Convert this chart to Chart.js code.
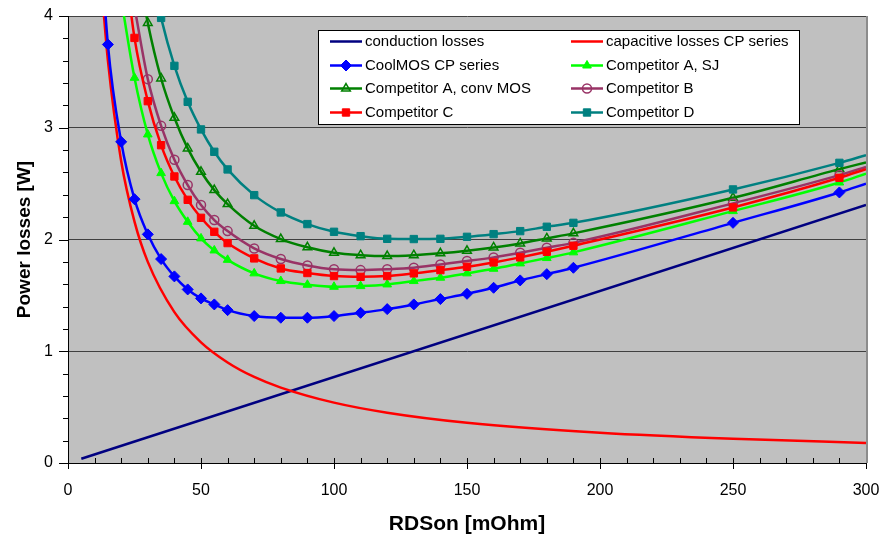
<!DOCTYPE html>
<html>
<head>
<meta charset="utf-8">
<script src="https://cdn.jsdelivr.net/npm/chart.js@4.4.1/dist/chart.umd.min.js"></script>
<style>
html, body { margin: 0; padding: 0; background: #fff; }
#wrap { width: 883px; height: 537px; }
</style>
</head>
<body>
<div id="wrap"><canvas id="grafico" width="883" height="537"></canvas></div>
<script>
// RDSon grid (mOhm) used by the device curves
const rdson = [10, 15, 20, 25, 30, 35, 40, 45, 50, 55, 60, 70, 80, 90, 100, 110, 120, 130, 140, 150, 160, 170, 180, 190, 250, 290, 300];

const coolmosCP      = [5.5, 3.745, 2.874, 2.361, 2.046, 1.825, 1.670, 1.553, 1.473, 1.419, 1.368, 1.315, 1.300, 1.300, 1.315, 1.344, 1.377, 1.419, 1.467, 1.514, 1.568, 1.634, 1.690, 1.747, 2.149, 2.421, 2.50];
const competidorASJ  = [null, null, 4.15, 3.447, 2.940, 2.594, 2.343, 2.158, 2.010, 1.902, 1.818, 1.697, 1.628, 1.595, 1.577, 1.583, 1.598, 1.628, 1.658, 1.697, 1.738, 1.786, 1.834, 1.885, 2.254, 2.510, 2.59];
const competidorAMOS = [null, null, null, 4.6, 3.938, 3.441, 3.089, 2.815, 2.606, 2.442, 2.317, 2.123, 2.004, 1.930, 1.881, 1.860, 1.852, 1.860, 1.876, 1.899, 1.929, 1.965, 2.010, 2.055, 2.373, 2.630, 2.69];
const competidorB    = [null, null, null, 4.08, 3.435, 3.017, 2.713, 2.487, 2.308, 2.174, 2.075, 1.920, 1.825, 1.768, 1.733, 1.726, 1.733, 1.747, 1.777, 1.807, 1.840, 1.881, 1.926, 1.970, 2.323, 2.576, 2.65];
const competidorC    = [null, null, 4.75, 3.804, 3.238, 2.844, 2.564, 2.355, 2.194, 2.069, 1.968, 1.831, 1.741, 1.700, 1.673, 1.666, 1.673, 1.697, 1.726, 1.756, 1.795, 1.840, 1.890, 1.944, 2.287, 2.552, 2.63];
const competidorD    = [null, null, null, null, 4.55, 3.983, 3.554, 3.232, 2.985, 2.785, 2.627, 2.397, 2.242, 2.138, 2.069, 2.030, 2.006, 2.004, 2.006, 2.024, 2.048, 2.075, 2.114, 2.149, 2.448, 2.686, 2.755];

const conducaoX = [5, 300];
const conducaoY = [0.038, 2.31];

const capacitivaX = [13, 15, 20, 25, 30, 40, 50, 60, 70, 80, 100, 120, 150, 200, 250, 300];
const capacitivaY = [4.15, 3.6, 2.7, 2.16, 1.8, 1.35, 1.08, 0.9, 0.77, 0.675, 0.54, 0.45, 0.36, 0.27, 0.216, 0.18];

const xTickLabels = [0, 50, 100, 150, 200, 250, 300];
const yTickLabels = [0, 1, 2, 3, 4];

const nomes = ['conduction losses', 'capacitive losses CP series', 'CoolMOS CP series', 'Competitor A, SJ',
               'Competitor A, conv MOS', 'Competitor B', 'Competitor C', 'Competitor D'];

Chart.defaults.font.family = '"Liberation Sans", Arial, sans-serif';
Chart.defaults.color = '#000';

function pontos(xs, ys) {
    return xs.map((x, i) => ({ x: x, y: ys[i] })).filter(p => p.y !== null);
}

function isInteiro(v) {
    return Math.abs(v - Math.round(v)) < 1e-6;
}

// markers only inside the visible range
function raio(r) {
    return ctx => {
        const p = ctx.raw;
        if (!p || p.x > 295 || p.y > 4.05) return 0;
        return r;
    };
}

function serie(label, ys, cor, estilo, r, preenchido) {
    return {
        label: label,
        data: pontos(rdson, ys),
        borderColor: cor,
        backgroundColor: preenchido ? cor : 'rgba(0,0,0,0)',
        borderWidth: 2.5,
        pointStyle: estilo,
        pointRadius: raio(r),
        raio: r,
        pointBorderWidth: preenchido ? 1 : 1.5,
        pointBackgroundColor: preenchido ? cor : 'rgba(0,0,0,0)',
        pointBorderColor: cor,
        cubicInterpolationMode: 'monotone',
        tension: 0.4
    };
}

const datasets = [
    {
        label: nomes[0], data: pontos(conducaoX, conducaoY),
        borderColor: '#000080', borderWidth: 2.5, pointRadius: 0, raio: 0
    },
    {
        label: nomes[1], data: pontos(capacitivaX, capacitivaY),
        borderColor: '#FF0000', borderWidth: 2.5, pointRadius: 0, raio: 0,
        cubicInterpolationMode: 'monotone', tension: 0.4
    },
    serie(nomes[2], coolmosCP, '#0000FF', 'rectRot', 5.5, true),
    serie(nomes[3], competidorASJ, '#00FF00', 'triangle', 5, true),
    serie(nomes[4], competidorAMOS, '#008000', 'triangle', 5, false),
    serie(nomes[5], competidorB, '#993366', 'circle', 4.5, false),
    serie(nomes[6], competidorC, '#FF0000', 'rect', 5.2, true),
    serie(nomes[7], competidorD, '#008080', 'rect', 5.2, true)
];
// later series drawn on top, like the original
datasets.forEach((ds, i) => { ds.order = datasets.length - i; });

const fundoPlot = {
    id: 'fundoPlot',
    beforeDraw(chart) {
        const { ctx, chartArea: a } = chart;
        ctx.save();
        ctx.fillStyle = '#C0C0C0';
        ctx.fillRect(a.left, a.top, a.right - a.left, a.bottom - a.top);
        ctx.restore();
    },
    afterDraw(chart) {
        const { ctx, chartArea: a, scales } = chart;
        ctx.save();
        ctx.strokeStyle = '#000';
        ctx.lineWidth = 1;
        ctx.beginPath();
        scales.x.ticks.forEach(t => {
            const px = Math.round(scales.x.getPixelForValue(t.value)) + 0.5;
            const maior = xTickLabels.includes(t.value);
            ctx.moveTo(px, a.bottom - 5);
            ctx.lineTo(px, a.bottom + (maior ? 6 : 0));
        });
        scales.y.ticks.forEach(t => {
            const py = Math.round(scales.y.getPixelForValue(t.value)) + 0.5;
            const maior = isInteiro(t.value);
            ctx.moveTo(a.left - (maior ? 9 : 5), py);
            ctx.lineTo(a.left, py);
        });
        ctx.stroke();
        // right edge of the plot area
        ctx.strokeStyle = '#8C8C8C';
        ctx.lineWidth = 2;
        ctx.beginPath();
        ctx.moveTo(a.right + 1, a.top);
        ctx.lineTo(a.right + 1, a.bottom);
        ctx.stroke();
        ctx.restore();
    }
};

const legendaCaixa = {
    id: 'legendaCaixa',
    afterDraw(chart) {
        const { ctx, chartArea: a } = chart;
        const x0 = a.left + 250, y0 = a.top + 14, w = 481, h = 94;
        ctx.save();
        ctx.fillStyle = '#fff';
        ctx.fillRect(x0, y0, w, h);
        ctx.strokeStyle = '#000';
        ctx.lineWidth = 1;
        ctx.strokeRect(x0 + 0.5, y0 + 0.5, w, h);
        ctx.font = '15px "Liberation Sans", Arial, sans-serif';
        ctx.textBaseline = 'middle';
        ctx.textAlign = 'left';
        chart.data.datasets.forEach((ds, i) => {
            const col = i % 2, lin = Math.floor(i / 2);
            const lx = x0 + 12 + col * 241;
            const ly = Math.round(y0 + 11 + lin * 23.7) + 0.5;
            ctx.strokeStyle = ds.borderColor;
            ctx.lineWidth = ds.borderWidth;
            ctx.beginPath();
            ctx.moveTo(lx, ly);
            ctx.lineTo(lx + 32, ly);
            ctx.stroke();
            if (ds.raio > 0) {
                ctx.fillStyle = ds.pointBackgroundColor;
                ctx.strokeStyle = ds.pointBorderColor;
                ctx.lineWidth = ds.pointBorderWidth;
                Chart.helpers.drawPoint(ctx, {
                    pointStyle: ds.pointStyle, rotation: 0,
                    radius: ds.raio, borderWidth: ds.pointBorderWidth
                }, lx + 16, ly);
            }
            ctx.fillStyle = '#000';
            ctx.fillText(ds.label, lx + 35, ly);
        });
        ctx.restore();
    }
};

new Chart(document.getElementById('grafico').getContext('2d'), {
    type: 'line',
    data: { datasets: datasets },
    options: {
        responsive: false,
        animation: false,
        devicePixelRatio: 1,
        layout: { padding: { left: 0, right: 17, top: 16, bottom: 0 } },
        plugins: {
            legend: { display: false },
            tooltip: { enabled: false }
        },
        scales: {
            x: {
                type: 'linear',
                min: 0,
                max: 300,
                ticks: {
                    stepSize: 10,
                    autoSkip: false,
                    maxRotation: 0,
                    padding: 18,
                    font: { size: 16 },
                    callback: v => xTickLabels.includes(v) ? String(v) : ''
                },
                grid: { drawOnChartArea: false, drawTicks: false },
                border: { color: '#000', width: 1 },
                title: {
                    display: true,
                    text: 'RDSon [mOhm]',
                    font: { size: 21, weight: 'bold' },
                    padding: { top: 0, bottom: 0 }
                },
                afterFit(s) {
                    s.height = 74;
                    s.paddingLeft = 0;
                    s.paddingRight = 0;
                }
            },
            y: {
                type: 'linear',
                min: 0,
                max: 4,
                ticks: {
                    stepSize: 0.2,
                    autoSkip: false,
                    padding: 15,
                    font: { size: 16 },
                    callback: v => (isInteiro(v) && yTickLabels.includes(Math.round(v))) ? String(Math.round(v)) : ''
                },
                grid: {
                    color: ctx => (ctx.tick && isInteiro(ctx.tick.value)) ? '#404040' : 'rgba(0,0,0,0)',
                    drawTicks: false
                },
                border: { color: '#000', width: 1 },
                title: {
                    display: true,
                    text: 'Power losses [W]',
                    font: { size: 19, weight: 'bold' },
                    padding: { top: 13, bottom: 0 }
                },
                afterFit(s) {
                    s.width = 68;
                    s.paddingTop = 0;
                    s.paddingBottom = 0;
                }
            }
        }
    },
    plugins: [fundoPlot, legendaCaixa]
});
</script>
</body>
</html>
